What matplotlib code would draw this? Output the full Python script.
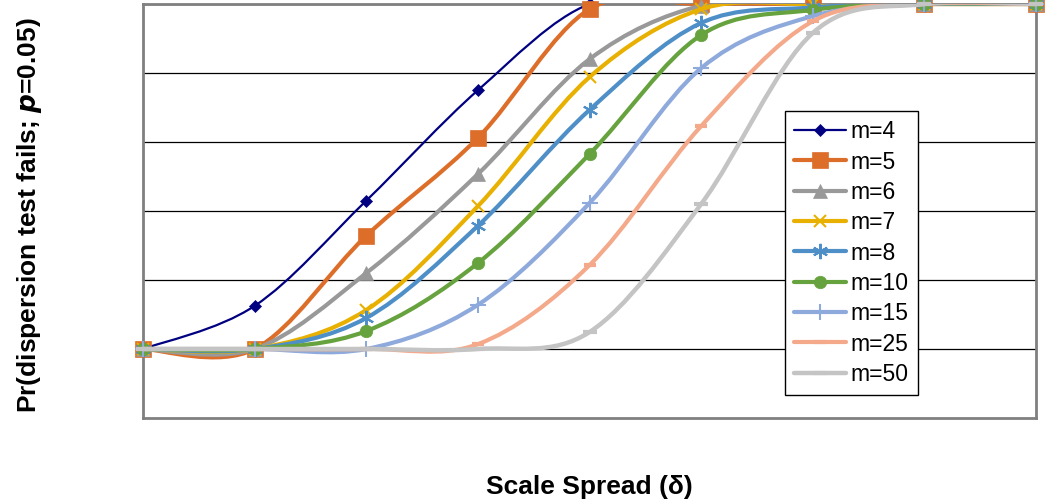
import numpy as np
import matplotlib.pyplot as plt
from matplotlib.path import Path
from matplotlib.patches import PathPatch
from matplotlib.lines import Line2D

plt.rcParams['font.family'] = ['Liberation Sans', 'DejaVu Sans']

# x categories (scale spread steps, labels hidden in the original)
x = np.arange(9)

labels = ['m=4', 'm=5', 'm=6', 'm=7', 'm=8', 'm=10', 'm=15', 'm=25', 'm=50']

m4 = [0.0, 0.125, 0.43, 0.75, 1.0, 1.0, 1.0, 1.0, 1.0]
m5 = [0.0, 0.0, 0.328, 0.612, 0.985, 1.0, 1.0, 1.0, 1.0]
m6 = [0.0, 0.0, 0.22, 0.507, 0.84, 0.995, 1.0, 1.0, 1.0]
m7 = [0.0, 0.0, 0.113, 0.414, 0.788, 0.985, 1.0, 1.0, 1.0]
m8 = [0.0, 0.0, 0.09, 0.357, 0.693, 0.945, 0.99, 1.0, 1.0]
m10 = [0.0, 0.0, 0.052, 0.249, 0.565, 0.91, 0.983, 1.0, 1.0]
m15 = [0.0, 0.0, 0.0, 0.128, 0.423, 0.814, 0.965, 1.0, 1.0]
m25 = [0.0, 0.0, 0.0, 0.014, 0.243, 0.646, 0.95, 1.0, 1.0]
m50 = [0.0, 0.0, 0.0, 0.0, 0.049, 0.42, 0.916, 1.0, 1.0]

series = [m4, m5, m6, m7, m8, m10, m15, m25, m50]

colors = ['#000080', '#DD6E2A', '#999999', '#E8B000', '#4F8FC8',
          '#66A23E', '#8EA9DB', '#F4A98A', '#C4C4C4']
markers = ['D', 's', '^', 'x', (6, 2, 0), 'o', '+', '_', '_']
msizes = [6.5, 11, 10.5, 9, 11, 9, 11, 8, 10]
lwidths = [1.6, 3, 3, 3, 3, 3, 3, 3, 3.2]


def smooth(xs, ys):
    # Excel-like smoothed line: Catmull-Rom as cubic bezier
    pts = np.column_stack([xs, ys]).astype(float)
    verts = [pts[0]]
    codes = [Path.MOVETO]
    n = len(pts)
    for i in range(n - 1):
        p0 = pts[i - 1] if i > 0 else pts[i]
        p1 = pts[i]
        p2 = pts[i + 1]
        p3 = pts[i + 2] if i + 2 < n else pts[i + 1]
        c1 = p1 + (p2 - p0) / 6
        c2 = p2 - (p3 - p1) / 6
        verts += [c1, c2, p2]
        codes += [Path.CURVE4] * 3
    return Path(verts, codes)


fig = plt.figure(figsize=(10.46, 5.01), dpi=100)
ax = fig.add_axes([143 / 1046, 1 - 418 / 501, (1036 - 143) / 1046, (418 - 4) / 501])

handles = []
for i, ys in enumerate(series):
    z = 3 + i
    patch = PathPatch(smooth(x, ys), facecolor='none', edgecolor=colors[i],
                      lw=lwidths[i], zorder=z, capstyle='round', joinstyle='round')
    ax.add_patch(patch)
    mew = 1.5 if markers[i] in ('x', '+', '_') or isinstance(markers[i], tuple) else 0.5
    if markers[i] == '_':
        mew = 3
    ax.plot(x, ys, ls='none', marker=markers[i], ms=msizes[i], color=colors[i],
            mec=colors[i], mew=mew, zorder=z + 0.5, clip_on=False)
    handles.append(Line2D([], [], color=colors[i], lw=lwidths[i], marker=markers[i],
                          ms=msizes[i], mec=colors[i], mew=mew,
                          solid_capstyle='round'))

ax.set_xlim(0, 8)
ax.set_ylim(-0.2, 1.0)
ax.set_yticks([0, 0.2, 0.4, 0.6, 0.8, 1.0])
ax.set_xticks([])
ax.tick_params(left=False, labelleft=False)
ax.yaxis.grid(True, color='black', lw=0.9)
ax.set_axisbelow(True)
for s in ax.spines.values():
    s.set_color('#808080')
    s.set_linewidth(2)

leg = ax.legend(handles, labels, loc='upper left', bbox_to_anchor=(0.719, 0.7415),
                fontsize=16.5, handlelength=2.25, labelspacing=0.32, handletextpad=0.2,
                borderpad=0.4, fancybox=False, framealpha=1, edgecolor='black',
                borderaxespad=0)
leg.get_frame().set_linewidth(1.0)
leg.set_zorder(20)

fig.text(30 / 1046, 1 - 215 / 501, r'Pr(dispersion test fails; $\bfit{p}$=0.05)',
         rotation=90, ha='center', va='center', fontsize=19, fontweight='bold')
fig.text(589 / 1046, 1 - 487 / 501, 'Scale Spread (δ)', ha='center', va='center',
         fontsize=19, fontweight='bold')

fig.savefig('out.png', dpi=100)
